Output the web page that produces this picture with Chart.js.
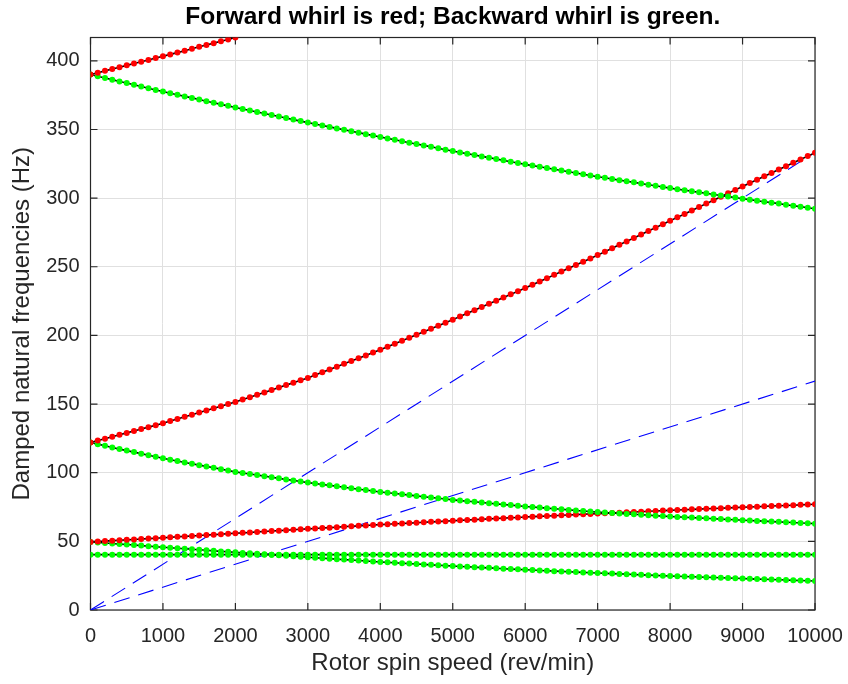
<!DOCTYPE html>
<html>
<head>
<meta charset="utf-8">
<script src="https://cdn.jsdelivr.net/npm/chart.js@4.4.1/dist/chart.umd.min.js"></script>
<style>
html,body{margin:0;padding:0;background:#fff;}
#wrap{width:848px;height:684px;}
</style>
</head>
<body>
<div id="wrap"><canvas id="chart" width="848" height="684"></canvas></div>
<script>
// rotor spin speed, rev/min
const speed = [0,100,200,300,400,500,600,700,800,900,
1000,1100,1200,1300,1400,1500,1600,1700,1800,1900,
2000,2100,2200,2300,2400,2500,2600,2700,2800,2900,
3000,3100,3200,3300,3400,3500,3600,3700,3800,3900,
4000,4100,4200,4300,4400,4500,4600,4700,4800,4900,
5000,5100,5200,5300,5400,5500,5600,5700,5800,5900,
6000,6100,6200,6300,6400,6500,6600,6700,6800,6900,
7000,7100,7200,7300,7400,7500,7600,7700,7800,7900,
8000,8100,8200,8300,8400,8500,8600,8700,8800,8900,
9000,9100,9200,9300,9400,9500,9600,9700,9800,9900,10000];

// forward whirl (red)
const fwdHigh = [390.0,391.3,392.7,394.0,395.3,396.7,398.0,399.3,400.6,402.0,
403.3,404.7,406.0,407.4,408.8,410.2,411.5,412.9,414.3,415.6,417.0];
const fwdMid = [122.0,123.4,124.8,126.2,127.6,129.0,130.4,131.8,133.2,134.6,
136.0,137.6,139.1,140.7,142.2,143.8,145.3,146.9,148.4,150.0,
151.5,153.3,155.0,156.8,158.5,160.3,162.0,163.8,165.5,167.3,
169.0,171.1,173.1,175.2,177.2,179.3,181.3,183.4,185.4,187.5,
189.5,191.7,193.9,196.1,198.3,200.5,202.7,204.9,207.1,209.3,
211.5,213.8,216.1,218.4,220.7,223.0,225.3,227.6,229.9,232.2,
234.5,236.9,239.3,241.7,244.1,246.5,248.9,251.3,253.7,256.1,
258.5,261.0,263.5,266.0,268.5,271.0,273.5,276.0,278.5,281.0,
283.5,286.0,288.5,291.0,293.5,296.0,298.5,301.0,303.5,306.0,
308.5,311.0,313.4,315.9,318.3,320.8,323.2,325.7,328.1,330.6,333.0];
const fwdLow = [49.6,49.9,50.2,50.5,50.8,51.1,51.4,51.7,52.0,52.3,
52.6,52.9,53.3,53.6,53.9,54.3,54.6,54.9,55.2,55.6,
55.9,56.2,56.5,56.9,57.2,57.5,57.8,58.1,58.5,58.8,
59.1,59.4,59.7,60.0,60.3,60.7,61.0,61.3,61.6,61.9,
62.2,62.5,62.8,63.0,63.3,63.6,63.9,64.2,64.4,64.7,
65.0,65.3,65.5,65.8,66.1,66.4,66.6,66.9,67.2,67.4,
67.7,68.0,68.2,68.5,68.7,69.0,69.2,69.5,69.7,70.0,
70.2,70.4,70.7,70.9,71.2,71.4,71.6,71.9,72.1,72.4,
72.6,72.8,73.0,73.3,73.5,73.7,73.9,74.1,74.4,74.6,
74.8,75.0,75.2,75.5,75.7,75.9,76.1,76.3,76.6,76.8,77.0];

// backward whirl (green)
const bwdHigh = [390.0,388.8,387.5,386.3,385.0,383.8,382.6,381.3,380.1,378.8,
377.6,376.4,375.3,374.1,373.0,371.8,370.6,369.5,368.3,367.2,
366.0,364.9,363.8,362.7,361.6,360.5,359.4,358.3,357.2,356.1,
355.0,354.0,352.9,351.9,350.8,349.8,348.7,347.7,346.6,345.6,
344.5,343.5,342.5,341.4,340.4,339.4,338.4,337.4,336.3,335.3,
334.3,333.3,332.4,331.4,330.4,329.5,328.5,327.5,326.5,325.6,
324.6,323.7,322.8,321.9,321.0,320.1,319.2,318.3,317.4,316.5,
315.6,314.8,313.9,313.1,312.3,311.5,310.6,309.8,309.0,308.1,
307.3,306.5,305.8,305.0,304.2,303.5,302.7,301.9,301.1,300.4,
299.6,298.9,298.1,297.4,296.7,296.0,295.2,294.5,293.8,293.0,292.3];
const bwdMid = [122.0,120.8,119.6,118.4,117.2,116.1,115.0,113.9,112.7,111.6,
110.5,109.5,108.5,107.5,106.5,105.5,104.6,103.6,102.6,101.6,
100.6,99.8,99.0,98.3,97.5,96.7,95.9,95.1,94.4,93.6,
92.8,92.1,91.4,90.8,90.1,89.4,88.7,88.0,87.4,86.7,
86.0,85.4,84.8,84.3,83.7,83.1,82.5,81.9,81.4,80.8,
80.2,79.7,79.2,78.8,78.3,77.8,77.3,76.8,76.4,75.9,
75.4,75.0,74.6,74.2,73.8,73.4,72.9,72.5,72.1,71.7,
71.3,71.0,70.7,70.3,70.0,69.7,69.4,69.1,68.7,68.4,
68.1,67.8,67.6,67.3,67.0,66.8,66.5,66.2,65.9,65.7,
65.4,65.2,64.9,64.7,64.4,64.2,63.9,63.7,63.4,63.2,62.9];
const bwdLow = [49.6,49.2,48.8,48.4,48.0,47.7,47.3,46.9,46.5,46.1,
45.7,45.3,45.0,44.6,44.2,43.9,43.5,43.1,42.7,42.4,
42.0,41.6,41.3,40.9,40.6,40.2,39.8,39.5,39.1,38.8,
38.4,38.1,37.7,37.4,37.0,36.7,36.4,36.0,35.7,35.3,
35.0,34.7,34.4,34.1,33.8,33.5,33.2,32.9,32.6,32.3,
32.0,31.7,31.5,31.2,30.9,30.7,30.4,30.1,29.8,29.6,
29.3,29.1,28.8,28.6,28.3,28.1,27.9,27.6,27.4,27.1,
26.9,26.7,26.5,26.3,26.1,25.9,25.6,25.4,25.2,25.0,
24.8,24.6,24.4,24.2,24.0,23.9,23.7,23.5,23.3,23.1,
22.9,22.7,22.5,22.4,22.2,22.0,21.8,21.6,21.5,21.3,21.1];
const bwdFlat = [40.3,40.3,40.3,40.3,40.3,40.3,40.3,40.3,40.3,40.3,
40.3,40.3,40.3,40.3,40.3,40.3,40.3,40.3,40.3,40.3,
40.3,40.3,40.3,40.3,40.3,40.3,40.3,40.3,40.3,40.3,
40.3,40.3,40.3,40.3,40.3,40.3,40.3,40.3,40.3,40.3,
40.3,40.3,40.3,40.3,40.3,40.3,40.3,40.3,40.3,40.3,
40.3,40.3,40.3,40.3,40.3,40.3,40.3,40.3,40.3,40.3,
40.3,40.3,40.3,40.3,40.3,40.3,40.3,40.3,40.3,40.3,
40.3,40.3,40.3,40.3,40.3,40.3,40.3,40.3,40.3,40.3,
40.3,40.3,40.3,40.3,40.3,40.3,40.3,40.3,40.3,40.3,
40.3,40.3,40.3,40.3,40.3,40.3,40.3,40.3,40.3,40.3,40.3];

// 1x and 2x running speed lines (blue dashed)
const orderSpeed = [0, 10000];
const order1 = [0, 166.7];
const order2 = [0, 333.3];

const xTicks = [0,1000,2000,3000,4000,5000,6000,7000,8000,9000,10000];
const yTicks = [0,50,100,150,200,250,300,350,400];

const FONT = "'Liberation Sans', Arial, Helvetica, sans-serif";
const INK = "#262626";

function pts(xs, ys){
  return ys.map((y,i) => ({x: xs[i], y: y}));
}
function whirl(ys, col){
  return {
    data: pts(speed, ys),
    showLine: true,
    borderColor: "#000",
    borderWidth: 1.6,
    pointRadius: 3,
    pointBackgroundColor: col,
    pointBorderColor: col,
    pointBorderWidth: 0
  };
}
function orderLine(ys){
  return {
    data: pts(orderSpeed, ys),
    showLine: true,
    borderColor: "#0000ff",
    borderWidth: 1.1,
    borderDash: [16, 9],
    pointRadius: 0
  };
}

// axes box and inward tick marks, drawn below the data like the original
const axesBox = {
  id: "axesBox",
  beforeDatasetsDraw(chart){
    const {ctx, chartArea: a, scales} = chart;
    ctx.save();
    ctx.strokeStyle = INK;
    ctx.lineWidth = 1.2;
    ctx.strokeRect(a.left, a.top, a.right - a.left, a.bottom - a.top);
    ctx.beginPath();
    xTicks.forEach(v => {
      const p = scales.x.getPixelForValue(v);
      ctx.moveTo(p, a.bottom); ctx.lineTo(p, a.bottom - 7);
      ctx.moveTo(p, a.top); ctx.lineTo(p, a.top + 7);
    });
    yTicks.forEach(v => {
      const p = scales.y.getPixelForValue(v);
      ctx.moveTo(a.left, p); ctx.lineTo(a.left + 7, p);
      ctx.moveTo(a.right, p); ctx.lineTo(a.right - 7, p);
    });
    ctx.stroke();
    ctx.restore();
  }
};

new Chart(document.getElementById("chart"), {
  type: "scatter",
  data: {
    datasets: [
      whirl(fwdHigh, "#ff0000"),
      whirl(bwdHigh, "#00ff00"),
      whirl(fwdMid, "#ff0000"),
      whirl(bwdMid, "#00ff00"),
      whirl(fwdLow, "#ff0000"),
      whirl(bwdLow, "#00ff00"),
      whirl(bwdFlat, "#00ff00"),
      orderLine(order1),
      orderLine(order2)
    ]
  },
  options: {
    responsive: false,
    devicePixelRatio: 1,
    animation: false,
    events: [],
    layout: {padding: {left: 0, right: 33, top: 0, bottom: 0}},
    plugins: {
      legend: {display: false},
      tooltip: {enabled: false},
      title: {
        display: true,
        fullSize: false,
        text: "Forward whirl is red; Backward whirl is green.",
        color: "#000",
        font: {family: FONT, size: 24.5, weight: "bold"},
        padding: {top: 3, bottom: 5.1}
      }
    },
    scales: {
      x: {
        type: "linear",
        min: 0, max: 10000,
        afterBuildTicks: s => { s.ticks = xTicks.map(v => ({value: v})); },
        afterFit: s => { s.height = 74; s.paddingLeft = 0; s.paddingRight = 0; },
        grid: {color: "#e0e0e0", lineWidth: 1, drawTicks: false},
        border: {display: false},
        ticks: {color: INK, font: {family: FONT, size: 20}, padding: 14, maxRotation: 0,
                autoSkip: false, callback: v => String(v)},
        title: {display: true, text: "Rotor spin speed (rev/min)", color: INK,
                font: {family: FONT, size: 24}, padding: {top: 0, bottom: 6.6}}
      },
      y: {
        type: "linear",
        min: 0, max: 417,
        afterBuildTicks: s => { s.ticks = yTicks.map(v => ({value: v})); },
        afterFit: s => { s.width = 90.5; s.paddingTop = 0; s.paddingBottom = 0; },
        grid: {color: "#e0e0e0", lineWidth: 1, drawTicks: false},
        border: {display: false},
        ticks: {color: INK, font: {family: FONT, size: 20}, padding: 11, callback: v => String(v)},
        title: {display: true, text: "Damped natural frequencies (Hz)", color: INK,
                font: {family: FONT, size: 24}, padding: {top: 7.6, bottom: 0}}
      }
    }
  },
  plugins: [axesBox]
});
</script>
</body>
</html>
